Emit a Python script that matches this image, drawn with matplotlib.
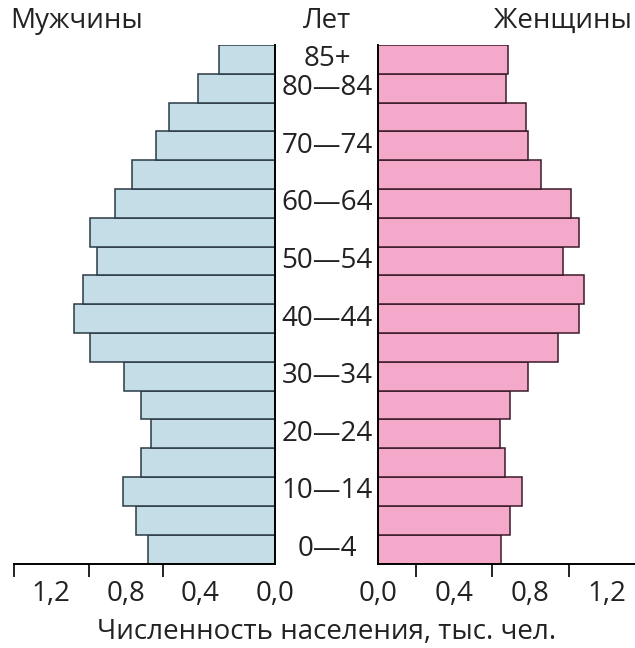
import matplotlib.pyplot as plt
import matplotlib.transforms as mtransforms

plt.rcParams['font.family'] = ['Open Sans', 'DejaVu Sans']

# Возрастные группы (снизу вверх)
ages = ['0—4', '5—9', '10—14', '15—19', '20—24', '25—29', '30—34', '35—39',
        '40—44', '45—49', '50—54', '55—59', '60—64', '65—69', '70—74',
        '75—79', '80—84', '85+']
men = [0.681, 0.744, 0.817, 0.717, 0.667, 0.717, 0.808, 0.992, 1.078,
       1.028, 0.957, 0.992, 0.858, 0.769, 0.638, 0.567, 0.415, 0.299]
women = [0.644, 0.691, 0.753, 0.665, 0.640, 0.691, 0.786, 0.944, 1.056,
         1.082, 0.970, 1.056, 1.014, 0.854, 0.786, 0.777, 0.672, 0.681]
shown_ages = ['0—4', '10—14', '20—24', '30—34', '40—44', '50—54', '60—64',
              '70—74', '80—84', '85+']
tick_labels = ['0,0', '0,4', '0,8', '1,2']
tick_values = [0.0, 0.4, 0.8, 1.2]

blue = '#c4dde6'
pink = '#f4a9ca'
fs = 20

fig = plt.figure(figsize=(6.35, 6.48), dpi=100)
bottom, top = 1 - 563.5 / 648, 1 - 45 / 648
ax_l = fig.add_axes([14 / 635, bottom, (275 - 14) / 635, top - bottom])
ax_r = fig.add_axes([378.3 / 635, bottom, 1 - 378.3 / 635, top - bottom])

y = range(len(ages))
ax_l.barh(y, men, height=1.0, color=blue, edgecolor='#2a3a44', linewidth=1.1)
ax_r.barh(y, women, height=1.0, color=pink, edgecolor='#3a1a28', linewidth=1.1)

ax_l.set_xlim(1.4, 0)
ax_r.set_xlim(0, 1.349)
for ax in (ax_l, ax_r):
    ax.set_ylim(-0.5, len(ages) - 0.5)
    ax.set_yticks([])
    ax.spines['top'].set_visible(False)
    ax.set_xticks(tick_values)
    ax.set_xticklabels(tick_labels, fontsize=fs, color='#222222')
    ax.tick_params(axis='x', which='major', length=0, pad=12)
    ax.tick_params(axis='x', which='minor', length=9, width=1.4, color='#222222')
    ax.spines['bottom'].set_linewidth(1.4)
    ax.set_facecolor('none')

ax_l.spines['left'].set_visible(False)
ax_l.spines['right'].set_linewidth(1.4)
ax_r.spines['right'].set_visible(False)
ax_r.spines['left'].set_linewidth(1.4)
ax_l.set_xticks([0.0, 0.4, 0.6, 1.0, 1.2, 1.4], minor=True)
ax_r.set_xticks([0.0, 0.2, 0.4, 0.6, 0.8, 1.0, 1.2], minor=True)

# Подписи возрастов между половинами
tr = mtransforms.blended_transform_factory(fig.transFigure, ax_r.transData)
for a in shown_ages:
    fig.text(327 / 635, ages.index(a), a, transform=tr, ha='center',
             va='center', fontsize=fs, color='#222222')

fig.text(10 / 635, 1 - 21 / 648, 'Мужчины', fontsize=fs, va='center',
         ha='left', color='#222222')
fig.text(327 / 635, 1 - 21 / 648, 'Лет', fontsize=fs, va='center',
         ha='center', color='#222222')
fig.text(632 / 635, 1 - 21 / 648, 'Женщины', fontsize=fs, va='center',
         ha='right', color='#222222')
fig.text(327 / 635, 1 - 632 / 648, 'Численность населения, тыс. чел.',
         fontsize=fs, va='center', ha='center', color='#222222')

plt.savefig('out.png', dpi=100)
